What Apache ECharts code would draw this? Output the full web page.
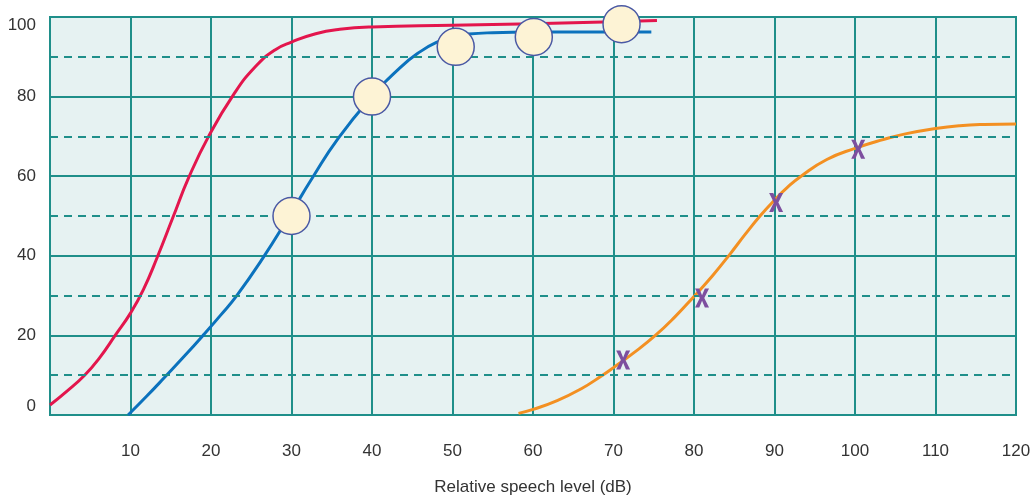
<!DOCTYPE html>
<html>
<head>
<meta charset="utf-8">
<script src="https://cdn.jsdelivr.net/npm/echarts@6/dist/echarts.min.js"></script>
<style>
html,body{margin:0;padding:0;background:#fff;}
#c{width:1036px;height:502px;}
</style>
</head>
<body>
<div id="c"></div>
<script>
// Data
var redX  = [0, 2, 4.3, 6.2, 8.1, 10, 11.6, 13.3, 15.3, 17.2, 19.7, 22.8, 25.5, 28, 30, 33, 36, 40, 50, 60, 70, 75.4];
var redY  = [2.5, 5.8, 10, 14.5, 20, 25.6, 31.5, 39.5, 49.8, 59.5, 70, 80.5, 87.5, 91.8, 93.7, 95.8, 96.9, 97.5, 97.9, 98.3, 98.8, 99.1];
var blueX = [9.7, 12, 14.3, 16.7, 19.1, 21.2, 23.2, 26.5, 29.6, 32.6, 35.8, 40, 43.5, 46, 48, 50, 52, 55, 60, 67, 74.7];
var blueY = [0, 4.7, 9.6, 14.8, 20.2, 25.1, 30, 39.6, 49.6, 59.6, 69.5, 80, 87.3, 91.3, 93.6, 95, 95.7, 96.05, 96.2, 96.2, 96.2];
var orangeX = [58.2, 60, 63, 66, 68.5, 70, 72.5, 75.2, 77.6, 80, 82.3, 84.5, 86.4, 88.2, 90, 91.6, 93.3, 96.5, 100, 103.5, 106.4, 110, 113, 116, 120];
var orangeY = [0.4, 1.4, 3.6, 6.6, 9.8, 11.9, 15.6, 20, 24.6, 29.8, 35, 40.5, 45.5, 50, 54, 57.2, 60, 64.2, 67, 69.2, 70.7, 72, 72.7, 73, 73.1];
var circleX = [30, 40, 50.4, 60.1, 71];
var circleY = [50, 80, 92.5, 95, 98.2];
var crossX = [71.2, 81, 90.2, 100.4];
var crossY = [13.8, 29.4, 53.4, 66.8];
var dashedLevels = [10, 30, 50, 70, 90];
var xTitle = 'Relative speech level (dB)';

function zip(a, b) { return a.map(function (v, i) { return [v, b[i]]; }); }

var teal = '#1f8f8a';
var chart = echarts.init(document.getElementById('c'));
chart.setOption({
  animation: false,
  grid: {
    left: 50, right: 20, top: 17, bottom: 87,
    show: true, backgroundColor: '#e6f2f2', borderColor: teal, borderWidth: 2
  },
  xAxis: {
    type: 'value', min: 0, max: 120, interval: 10,
    name: xTitle, nameLocation: 'middle', nameGap: 64,
    nameTextStyle: { fontFamily: 'Liberation Sans', fontSize: 17, color: '#333' },
    axisLine: { show: true, lineStyle: { color: teal, width: 2 } },
    axisTick: { show: false },
    axisLabel: {
      margin: 28, fontFamily: 'Liberation Sans', fontSize: 17, color: '#333',
      formatter: function (v) { return v === 0 ? '' : String(v); }
    },
    splitLine: { show: true, lineStyle: { color: teal, width: 2 } }
  },
  yAxis: {
    type: 'value', min: 0, max: 100, interval: 20,
    axisLine: { show: true, lineStyle: { color: teal, width: 2 } },
    axisTick: { show: false },
    axisLabel: {
      margin: 14, fontFamily: 'Liberation Sans', fontSize: 17, color: '#333',
      verticalAlignMaxLabel: 'top', verticalAlignMinLabel: 'bottom'
    },
    splitLine: { show: true, lineStyle: { color: teal, width: 2 } }
  },
  series: [
    {
      type: 'line', data: [], silent: true,
      markLine: {
        silent: true, symbol: 'none', label: { show: false },
        lineStyle: { color: teal, width: 2, type: [8, 6] },
        data: dashedLevels.map(function (v) { return { yAxis: v }; })
      }
    },
    {
      type: 'line', data: zip(redX, redY), smooth: 0.5, showSymbol: false,
      lineStyle: { color: '#e3164d', width: 3 }, z: 3
    },
    {
      type: 'line', data: zip(blueX, blueY), smooth: 0.5, showSymbol: false,
      lineStyle: { color: '#0b72bd', width: 3 }, z: 3
    },
    {
      type: 'line', data: zip(orangeX, orangeY), smooth: 0.5, showSymbol: false,
      lineStyle: { color: '#f39022', width: 3 }, z: 3
    },
    {
      type: 'scatter', data: zip(circleX, circleY), symbol: 'circle', symbolSize: 37,
      itemStyle: { color: '#fdf3d5', borderColor: '#4a59a4', borderWidth: 1.5, opacity: 1 }, z: 5
    },
    {
      type: 'scatter', data: zip(crossX, crossY),
      symbol: 'path://M0,0 L3,0 L5,3.6 L7,0 L10,0 L6.6,5 L10,10 L7,10 L5,6.4 L3,10 L0,10 L3.4,5 Z',
      symbolKeepAspect: false, symbolSize: [14, 19],
      itemStyle: { color: '#7d4f9f', opacity: 1 }, z: 5
    }
  ]
});
</script>
</body>
</html>
